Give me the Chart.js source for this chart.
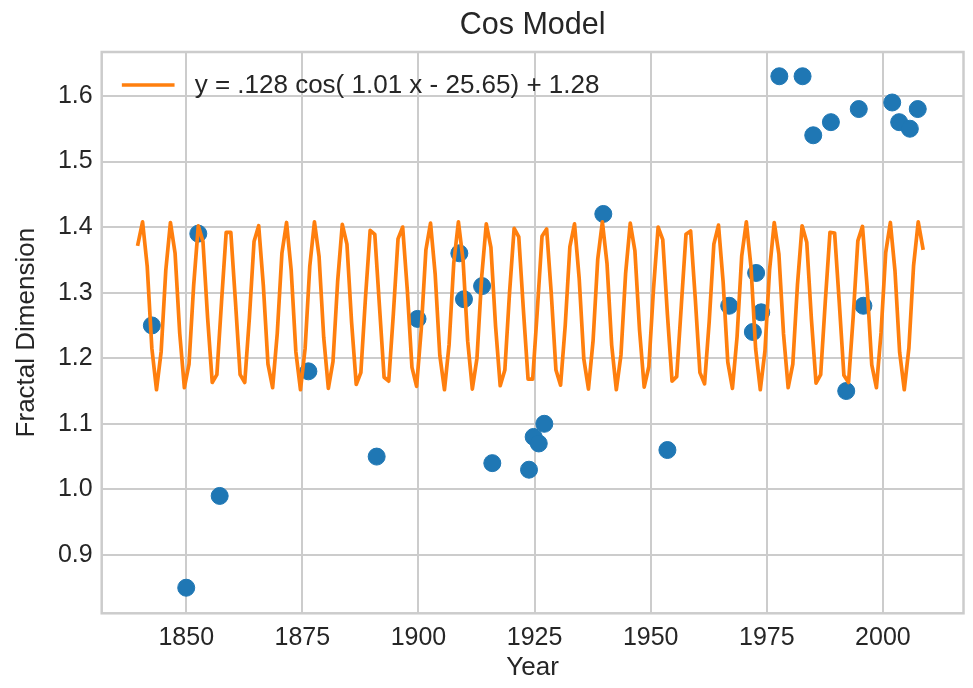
<!DOCTYPE html>
<html>
<head>
<meta charset="utf-8">
<title>Cos Model</title>
<script src="https://cdn.jsdelivr.net/npm/chart.js@4.4.1/dist/chart.umd.min.js"></script>
<style>
  html, body { margin: 0; padding: 0; background: #ffffff; }
  #wrap { width: 973px; height: 688px; }
</style>
</head>
<body>
<div id="wrap"><canvas id="chart" width="973" height="688"></canvas></div>
<script>
( function () {
	'use strict';

	var titleText = 'Cos Model';
	var xLabel = 'Year';
	var yLabel = 'Fractal Dimension';
	var fitLabel = 'y = .128 cos( 1.01 x - 25.65) + 1.28';

	// observed measurements
	var pointYears = [
		1842.6, 1850.0, 1852.6, 1857.2, 1876.3, 1891.0, 1899.8, 1908.8,
		1909.8, 1913.7, 1915.9, 1923.8, 1924.8, 1925.9, 1927.1, 1939.8,
		1953.6, 1966.9, 1972.0, 1972.7, 1973.8, 1977.7, 1982.7, 1985.0,
		1988.8, 1992.1, 1994.8, 1995.8, 2002.0, 2003.5, 2005.8, 2007.5
	];
	var pointValues = [
		1.25, 0.85, 1.39, 0.99, 1.18, 1.05, 1.26, 1.36,
		1.29, 1.31, 1.04, 1.03, 1.08, 1.07, 1.10, 1.42,
		1.06, 1.28, 1.24, 1.33, 1.27, 1.63, 1.63, 1.54,
		1.56, 1.15, 1.58, 1.28, 1.59, 1.56, 1.55, 1.58
	];

	// fitted model, one sample per year
	var lineYears = [
		1839.6, 1840.6, 1841.6, 1842.6, 1843.6, 1844.6, 1845.6, 1846.6, 1847.6, 1848.6,
		1849.6, 1850.6, 1851.6, 1852.6, 1853.6, 1854.6, 1855.6, 1856.6, 1857.6, 1858.6,
		1859.6, 1860.6, 1861.6, 1862.6, 1863.6, 1864.6, 1865.6, 1866.6, 1867.6, 1868.6,
		1869.6, 1870.6, 1871.6, 1872.6, 1873.6, 1874.6, 1875.6, 1876.6, 1877.6, 1878.6,
		1879.6, 1880.6, 1881.6, 1882.6, 1883.6, 1884.6, 1885.6, 1886.6, 1887.6, 1888.6,
		1889.6, 1890.6, 1891.6, 1892.6, 1893.6, 1894.6, 1895.6, 1896.6, 1897.6, 1898.6,
		1899.6, 1900.6, 1901.6, 1902.6, 1903.6, 1904.6, 1905.6, 1906.6, 1907.6, 1908.6,
		1909.6, 1910.6, 1911.6, 1912.6, 1913.6, 1914.6, 1915.6, 1916.6, 1917.6, 1918.6,
		1919.6, 1920.6, 1921.6, 1922.6, 1923.6, 1924.6, 1925.6, 1926.6, 1927.6, 1928.6,
		1929.6, 1930.6, 1931.6, 1932.6, 1933.6, 1934.6, 1935.6, 1936.6, 1937.6, 1938.6,
		1939.6, 1940.6, 1941.6, 1942.6, 1943.6, 1944.6, 1945.6, 1946.6, 1947.6, 1948.6,
		1949.6, 1950.6, 1951.6, 1952.6, 1953.6, 1954.6, 1955.6, 1956.6, 1957.6, 1958.6,
		1959.6, 1960.6, 1961.6, 1962.6, 1963.6, 1964.6, 1965.6, 1966.6, 1967.6, 1968.6,
		1969.6, 1970.6, 1971.6, 1972.6, 1973.6, 1974.6, 1975.6, 1976.6, 1977.6, 1978.6,
		1979.6, 1980.6, 1981.6, 1982.6, 1983.6, 1984.6, 1985.6, 1986.6, 1987.6, 1988.6,
		1989.6, 1990.6, 1991.6, 1992.6, 1993.6, 1994.6, 1995.6, 1996.6, 1997.6, 1998.6,
		1999.6, 2000.6, 2001.6, 2002.6, 2003.6, 2004.6, 2005.6, 2006.6, 2007.6, 2008.6
	];
	var lineValues = [
		1.374, 1.408, 1.340, 1.215, 1.152, 1.210, 1.334, 1.407, 1.360, 1.238,
		1.155, 1.191, 1.311, 1.402, 1.378, 1.262, 1.163, 1.175, 1.286, 1.392,
		1.392, 1.286, 1.175, 1.163, 1.262, 1.378, 1.402, 1.311, 1.191, 1.155,
		1.238, 1.360, 1.407, 1.334, 1.210, 1.152, 1.215, 1.340, 1.408, 1.355,
		1.232, 1.154, 1.195, 1.317, 1.404, 1.374, 1.255, 1.160, 1.178, 1.293,
		1.395, 1.389, 1.280, 1.171, 1.165, 1.268, 1.382, 1.400, 1.304, 1.186,
		1.157, 1.244, 1.365, 1.406, 1.328, 1.204, 1.152, 1.221, 1.345, 1.408,
		1.350, 1.226, 1.153, 1.200, 1.323, 1.405, 1.369, 1.249, 1.158, 1.182,
		1.299, 1.398, 1.385, 1.273, 1.168, 1.168, 1.274, 1.386, 1.397, 1.298,
		1.182, 1.159, 1.250, 1.370, 1.405, 1.322, 1.199, 1.153, 1.227, 1.351,
		1.408, 1.344, 1.220, 1.152, 1.205, 1.329, 1.406, 1.364, 1.243, 1.156,
		1.187, 1.305, 1.400, 1.381, 1.267, 1.165, 1.172, 1.281, 1.389, 1.394,
		1.291, 1.178, 1.161, 1.256, 1.374, 1.403, 1.316, 1.194, 1.154, 1.233,
		1.356, 1.408, 1.339, 1.214, 1.152, 1.211, 1.335, 1.407, 1.359, 1.237,
		1.155, 1.191, 1.312, 1.402, 1.377, 1.260, 1.162, 1.175, 1.287, 1.392,
		1.391, 1.285, 1.174, 1.163, 1.263, 1.379, 1.401, 1.309, 1.190, 1.155,
		1.239, 1.361, 1.407, 1.333, 1.209, 1.152, 1.216, 1.341, 1.408, 1.368
	];

	var xTicks = [ 1850, 1875, 1900, 1925, 1950, 1975, 2000 ];
	var yTicks = [ 0.9, 1.0, 1.1, 1.2, 1.3, 1.4, 1.5, 1.6 ];

	var FONT = "'Liberation Sans', Arial, sans-serif";
	var TEXT = '#262626';
	var GRID = '#cccccc';
	var BLUE = '#1f77b4';
	var ORANGE = '#ff7f0e';

	function pairs( xs, ys ) {
		return xs.map( function ( x, i ) {
			return { x: x, y: ys[ i ] };
		} );
	}

	// matplotlib-style frame and in-axes legend
	var frameAndLegend = {
		id: 'frameAndLegend',
		beforeDatasetsDraw: function ( chart ) {
			var a = chart.chartArea;
			var ctx = chart.ctx;
			ctx.save();
			ctx.strokeStyle = GRID;
			ctx.lineWidth = 2.5;
			ctx.strokeRect( a.left, a.top, a.right - a.left, a.bottom - a.top );
			ctx.restore();
		},
		afterDraw: function ( chart ) {
			var a = chart.chartArea;
			var ctx = chart.ctx;
			var y = a.top + 33;
			ctx.save();
			ctx.strokeStyle = ORANGE;
			ctx.lineWidth = 3.7;
			ctx.lineCap = 'square';
			ctx.beginPath();
			ctx.moveTo( a.left + 22, y );
			ctx.lineTo( a.left + 71, y );
			ctx.stroke();
			ctx.fillStyle = TEXT;
			ctx.font = '26px ' + FONT;
			ctx.textBaseline = 'middle';
			ctx.textAlign = 'left';
			ctx.fillText( fitLabel, a.left + 93, y + 1 );
			ctx.restore();
		},
	};

	new Chart( document.getElementById( 'chart' ), {
		type: 'scatter',
		data: {
			datasets: [
				{
					type: 'line',
					label: fitLabel,
					data: pairs( lineYears, lineValues ),
					borderColor: ORANGE,
					borderWidth: 3.7,
					borderJoinStyle: 'round',
					borderCapStyle: 'square',
					pointRadius: 0,
					tension: 0,
					fill: false,
					order: 0,
				},
				{
					type: 'scatter',
					label: 'Fractal Dimension',
					data: pairs( pointYears, pointValues ),
					backgroundColor: BLUE,
					borderColor: BLUE,
					borderWidth: 1,
					pointRadius: 8.5,
					order: 1,
				},
			],
		},
		options: {
			responsive: false,
			animation: false,
			devicePixelRatio: 1,
			layout: {
				padding: { left: 0, right: 5.3, top: 0, bottom: 0 },
			},
			plugins: {
				legend: { display: false },
				tooltip: { enabled: false },
				title: {
					display: true,
					text: titleText,
					fullSize: false,
					color: TEXT,
					font: { family: FONT, size: 30.5, weight: 'normal' },
					padding: { top: 7.5, bottom: 7.9 },
				},
			},
			scales: {
				x: {
					type: 'linear',
					min: 1831.8,
					max: 2017.35,
					afterBuildTicks: function ( scale ) {
						scale.ticks = xTicks.map( function ( v ) {
							return { value: v };
						} );
					},
					afterFit: function ( scale ) {
						scale.height = 74.7;
					},
					border: { display: false },
					grid: { color: GRID, lineWidth: 2, drawTicks: false },
					ticks: {
						autoSkip: false,
						maxRotation: 0,
						padding: 10,
						color: TEXT,
						font: { family: FONT, size: 25 },
						callback: function ( v ) {
							return String( v );
						},
					},
					title: {
						display: true,
						text: xLabel,
						color: TEXT,
						font: { family: FONT, size: 26 },
						padding: { top: 0, bottom: 4.4 },
					},
				},
				y: {
					type: 'linear',
					min: 0.811,
					max: 1.667,
					afterBuildTicks: function ( scale ) {
						scale.ticks = yTicks.map( function ( v ) {
							return { value: v };
						} );
					},
					afterFit: function ( scale ) {
						scale.width = 101.7;
					},
					border: { display: false },
					grid: { color: GRID, lineWidth: 2, drawTicks: false },
					ticks: {
						autoSkip: false,
						padding: 9,
						color: TEXT,
						font: { family: FONT, size: 25 },
						callback: function ( v ) {
							return v.toFixed( 1 );
						},
					},
					title: {
						display: true,
						text: yLabel,
						color: TEXT,
						font: { family: FONT, size: 26 },
						padding: { top: 11.4, bottom: 0 },
					},
				},
			},
		},
		plugins: [ frameAndLegend ],
	} );
}() );
</script>
</body>
</html>
